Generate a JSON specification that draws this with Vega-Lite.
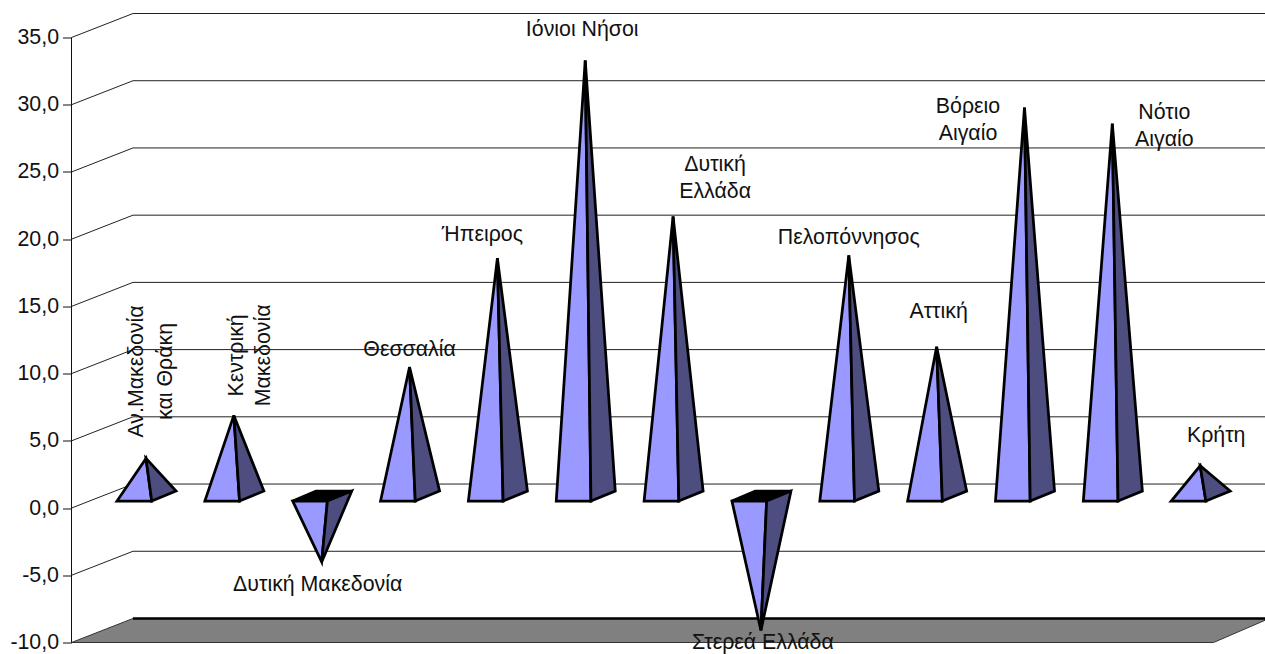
{
"$schema":"https://vega.github.io/schema/vega-lite/v6.json",
"width":1193.5,"height":629,
"autosize":{"type":"none"},
"padding":{"left":71.5,"top":13.5,"right":0,"bottom":11.5},
"background":"white",
"config":{"view":{"stroke":null},"text":{"font":"Liberation Sans","fontSize":21.33,"color":"#111111","lineBreak":"\n","baseline":"middle","align":"center","lineHeight":27}},
"data":{"values":[
{"region":"Αν.Μακεδονία και Θράκη","label":"Αν.Μακεδονία\nκαι Θράκη","value":2.8},
{"region":"Κεντρική Μακεδονία","label":"Κεντρική\nΜακεδονία","value":6.0},
{"region":"Δυτική Μακεδονία","label":"Δυτική Μακεδονία","value":-4.9},
{"region":"Θεσσαλία","label":"Θεσσαλία","value":9.6},
{"region":"Ήπειρος","label":"Ήπειρος","value":17.7},
{"region":"Ιόνιοι Νήσοι","label":"Ιόνιοι Νήσοι","value":32.4},
{"region":"Δυτική Ελλάδα","label":"Δυτική\nΕλλάδα","value":20.8},
{"region":"Στερεά Ελλάδα","label":"Στερεά Ελλάδα","value":-10.0},
{"region":"Πελοπόννησος","label":"Πελοπόννησος","value":17.9},
{"region":"Αττική","label":"Αττική","value":11.1},
{"region":"Βόρειο Αιγαίο","label":"Βόρειο\nΑιγαίο","value":28.9},
{"region":"Νότιο Αιγαίο","label":"Νότιο\nΑιγαίο","value":27.7},
{"region":"Κρήτη","label":"Κρήτη","value":2.25}
]},
"transform":[
{"window":[{"op":"row_number","as":"n"}]},
{"calculate":"datum.n-1+0.848","as":"a"},
{"calculate":"datum.a","as":"u"},
{"calculate":"datum.value+0.893","as":"v"}
],
"encoding":{
"x":{"field":"u","type":"quantitative","scale":{"domain":[0,13.586],"nice":false,"zero":false},"axis":null},
"y":{"field":"v","type":"quantitative","scale":{"domain":[-10,36.786],"nice":false,"zero":false},
"axis":{"title":null,"domain":false,"grid":false,"values":[-10,-5,0,5,10,15,20,25,30,35],"tickColor":"#111111","tickSize":9,"tickWidth":1,"labelPadding":4,"labelFont":"Liberation Sans","labelFontSize":21.33,"labelColor":"#111111","labelExpr":"replace(replace(format(datum.value,'.1f'),'.',','),'−','-')"}}
},
"layer":[
{"data":{"values":[{"tick":-5},{"tick":0},{"tick":5},{"tick":10},{"tick":15},{"tick":20},{"tick":25},{"tick":30},{"tick":35}]},
"transform":[{"calculate":"datum.tick","as":"v"},{"calculate":"datum.tick+1.786","as":"back"},{"calculate":"0","as":"u"},{"calculate":"0.7","as":"u2"}],
"mark":{"type":"rule","color":"#222222","strokeWidth":1},
"encoding":{"x2":{"field":"u2"},"y2":{"field":"back"}}},
{"data":{"values":[{"tick":-5},{"tick":0},{"tick":5},{"tick":10},{"tick":15},{"tick":20},{"tick":25},{"tick":30},{"tick":35}]},
"transform":[{"calculate":"datum.tick+1.786","as":"v"},{"calculate":"0.7","as":"u"},{"calculate":"13.586","as":"u2"}],
"mark":{"type":"rule","color":"#222222","strokeWidth":1},
"encoding":{"x2":{"field":"u2"}}},
{"data":{"values":[{"u":0,"v":-10,"k":0},{"u":0.7,"v":-8.214,"k":1},{"u":13.586,"v":-8.214,"k":2},{"u":13.586,"v":-8.35,"k":3},{"u":13.0,"v":-10,"k":4}]},
"mark":{"type":"line","interpolate":"linear-closed","fill":"#808080","stroke":"#333333","strokeWidth":1},
"encoding":{"order":{"field":"k","type":"quantitative"}}},
{"data":{"values":[{"tick":-10}]},
"transform":[{"calculate":"datum.tick+1.786","as":"v"},{"calculate":"0.7","as":"u"},{"calculate":"13.586","as":"u2"}],
"mark":{"type":"rule","color":"#000000","strokeWidth":2.5},
"encoding":{"x2":{"field":"u2"}}},
{"data":{"values":[{"low":-10,"high":35}]},
"transform":[{"calculate":"datum.low","as":"v"},{"calculate":"0","as":"u"}],
"mark":{"type":"rule","color":"#111111","strokeWidth":1},
"encoding":{"y2":{"field":"high"}}},
{"transform":[{"filter":"datum.value<0"},{"calculate":"[0,1,2,3]","as":"vertex"},{"flatten":["vertex"]},
{"calculate":"datum.a+[-0.33,0.065,0.342,-0.065][datum.vertex]","as":"u"},
{"calculate":"[0.521,0.521,1.265,1.265][datum.vertex]","as":"v"}],
"mark":{"type":"line","interpolate":"linear-closed","fill":"#000000","stroke":"#000000","strokeWidth":2.75},
"encoding":{"detail":{"field":"region"},"order":{"field":"vertex","type":"quantitative"}}},
{"transform":[{"calculate":"[0,1,2]","as":"vertex"},{"flatten":["vertex"]},
{"calculate":"datum.a+[-0.33,0.065,0][datum.vertex]","as":"u"},
{"calculate":"[0.521,0.521,datum.value+0.893][datum.vertex]","as":"v"}],
"mark":{"type":"line","interpolate":"linear-closed","fill":"#9999FF","stroke":"#000000","strokeWidth":2.75},
"encoding":{"detail":{"field":"region"},"order":{"field":"vertex","type":"quantitative"}}},
{"transform":[{"calculate":"[0,1,2]","as":"vertex"},{"flatten":["vertex"]},
{"calculate":"datum.a+[0.065,0.342,0][datum.vertex]","as":"u"},
{"calculate":"[0.521,1.265,datum.value+0.893][datum.vertex]","as":"v"}],
"mark":{"type":"line","interpolate":"linear-closed","fill":"#4D4D80","stroke":"#000000","strokeWidth":2.75},
"encoding":{"detail":{"field":"region"},"order":{"field":"vertex","type":"quantitative"}}},
{"transform":[{"filter":"datum.region==='Αν.Μακεδονία και Θράκη'"}],"mark":{"type":"text","angle":270,"dx":87,"dy":-9,"lineHeight":29},"encoding":{"text":{"field":"label"}}},
{"transform":[{"filter":"datum.region==='Κεντρική Μακεδονία'"}],"mark":{"type":"text","angle":270,"dx":60,"dy":3},"encoding":{"text":{"field":"label"}}},
{"transform":[{"filter":"datum.region==='Δυτική Μακεδονία'"}],"mark":{"type":"text","dx":-4,"dy":23},"encoding":{"text":{"field":"label"}}},
{"transform":[{"filter":"datum.region==='Θεσσαλία'"}],"mark":{"type":"text","dx":0,"dy":-17},"encoding":{"text":{"field":"label"}}},
{"transform":[{"filter":"datum.region==='Ήπειρος'"}],"mark":{"type":"text","dx":-15,"dy":-23},"encoding":{"text":{"field":"label"}}},
{"transform":[{"filter":"datum.region==='Ιόνιοι Νήσοι'"}],"mark":{"type":"text","dx":-3,"dy":-30},"encoding":{"text":{"field":"label"}}},
{"transform":[{"filter":"datum.region==='Δυτική Ελλάδα'"}],"mark":{"type":"text","dx":42,"dy":-51},"encoding":{"text":{"field":"label"}}},
{"transform":[{"filter":"datum.region==='Στερεά Ελλάδα'"}],"mark":{"type":"text","dx":2,"dy":13},"encoding":{"text":{"field":"label"}}},
{"transform":[{"filter":"datum.region==='Πελοπόννησος'"}],"mark":{"type":"text","dx":0,"dy":-17},"encoding":{"text":{"field":"label"}}},
{"transform":[{"filter":"datum.region==='Αττική'"}],"mark":{"type":"text","dx":2,"dy":-35},"encoding":{"text":{"field":"label"}}},
{"transform":[{"filter":"datum.region==='Βόρειο Αιγαίο'"}],"mark":{"type":"text","dx":-56.5,"dy":-1},"encoding":{"text":{"field":"label"}}},
{"transform":[{"filter":"datum.region==='Νότιο Αιγαίο'"}],"mark":{"type":"text","dx":52,"dy":-11},"encoding":{"text":{"field":"label"}}},
{"transform":[{"filter":"datum.region==='Κρήτη'"}],"mark":{"type":"text","dx":16,"dy":-30},"encoding":{"text":{"field":"label"}}}
]
}
